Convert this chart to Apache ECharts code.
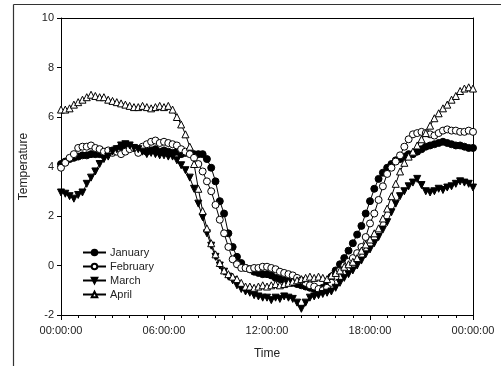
<!DOCTYPE html>
<html>
<head>
<meta charset="utf-8">
<script src="https://cdn.jsdelivr.net/npm/echarts@6/dist/echarts.min.js"></script>
<style>
  html, body { margin: 0; padding: 0; background: #fff; }
  #chart { width: 501px; height: 366px; }
</style>
</head>
<body>
<div id="chart"></div>
<script>
// readings every 15 minutes, 00:00 -> 24:00 (97 points)
var stepHours = 0.25;
var seriesNames = ['January', 'February', 'March', 'April'];
var xTicks = ['00:00:00', '06:00:00', '12:00:00', '18:00:00', '00:00:00'];

var january = [
  4.1, 4.2, 4.3, 4.35, 4.4, 4.45, 4.45, 4.5, 4.5, 4.5, 4.55, 4.6, 4.65, 4.7, 4.8, 4.85,
  4.8, 4.75, 4.7, 4.65, 4.6, 4.65, 4.7, 4.6, 4.65, 4.6, 4.55, 4.6, 4.5, 4.55, 4.6, 4.5,
  4.5, 4.5, 4.3, 3.95, 3.4, 2.6, 2.1, 1.3, 0.75, 0.35, 0.1, -0.1, -0.15, -0.25, -0.3, -0.35,
  -0.35, -0.4, -0.5, -0.55, -0.6, -0.65, -0.7, -0.75, -0.8, -0.85, -0.9, -0.95, -0.95, -0.9, -0.75, -0.45,
  -0.2, 0.05, 0.3, 0.6, 0.9, 1.25, 1.6, 2.1, 2.6, 3.1, 3.5, 3.75, 3.95, 4.1, 4.25, 4.3,
  4.4, 4.5, 4.5, 4.6, 4.7, 4.8, 4.85, 4.9, 4.95, 5.0, 4.95, 4.9, 4.85, 4.85, 4.8, 4.75,
  4.75
];
var february = [
  3.95, 4.15, 4.35, 4.5, 4.75, 4.8, 4.8, 4.85, 4.75, 4.7, 4.6, 4.65, 4.55, 4.6, 4.5, 4.6,
  4.7, 4.75, 4.55, 4.8, 4.9, 5.0, 5.05, 4.95, 5.0, 4.95, 4.9, 4.85, 4.7, 4.6, 4.5, 4.35,
  4.1, 3.8, 3.4, 3.0, 2.45, 1.85, 1.3, 0.75, 0.25, 0.05, -0.1, -0.1, -0.15, -0.1, -0.1, -0.05,
  -0.05, -0.1, -0.15, -0.25, -0.3, -0.35, -0.4, -0.5, -0.6, -0.7, -0.8, -0.85, -0.95, -1.0, -0.9, -0.7,
  -0.45, -0.2, 0.0, 0.15, 0.3, 0.5, 0.75, 1.15, 1.7, 2.1, 2.65, 3.2, 3.7, 3.95, 4.2, 4.45,
  4.8, 5.1, 5.3, 5.35, 5.4, 5.35, 5.3, 5.25, 5.35, 5.45, 5.5, 5.45, 5.45, 5.4, 5.4, 5.45,
  5.4
];
var march = [
  2.95, 2.9, 2.8, 2.7, 2.85, 2.95, 3.3, 3.55, 3.8, 4.1, 4.3, 4.4, 4.6, 4.7, 4.85, 4.9,
  4.85, 4.75, 4.7, 4.6, 4.5, 4.55, 4.5, 4.45, 4.45, 4.4, 4.4, 4.25, 4.05, 3.85, 3.55, 3.1,
  2.5, 1.95, 1.3, 0.8, 0.35, 0.0, -0.25, -0.45, -0.6, -0.8, -0.95, -1.05, -1.1, -1.2, -1.25, -1.3,
  -1.3, -1.4, -1.3, -1.35, -1.25, -1.3, -1.35, -1.5, -1.75, -1.5, -1.3, -1.25, -1.2, -1.15, -1.1, -1.05,
  -0.9, -0.7, -0.5, -0.35, -0.2, 0.0, 0.2, 0.45, 0.65, 0.9, 1.15, 1.45, 1.75, 2.15, 2.5, 2.8,
  3.0, 3.2, 3.35, 3.5, 3.25, 3.0, 2.95, 3.0, 3.1, 3.05, 3.15, 3.2, 3.3, 3.4, 3.35, 3.3,
  3.15
];
var april = [
  6.3, 6.3, 6.35, 6.5, 6.6, 6.7, 6.8, 6.9, 6.85, 6.8, 6.8, 6.7, 6.65, 6.6, 6.55, 6.5,
  6.45, 6.4, 6.4, 6.45, 6.4, 6.35, 6.4, 6.45, 6.4, 6.45, 6.3, 6.0, 5.7, 5.3, 4.8, 4.1,
  3.1, 2.2, 1.5, 0.9, 0.45, 0.1, -0.2, -0.35, -0.45, -0.55, -0.7, -0.85, -0.85, -0.9, -0.85, -0.8,
  -0.85, -0.8, -0.75, -0.8, -0.75, -0.7, -0.65, -0.6, -0.55, -0.5, -0.45, -0.5, -0.45, -0.5, -0.55, -0.4,
  -0.3, -0.2, -0.05, 0.05, 0.15, 0.3, 0.6, 0.85, 1.05, 1.3, 1.5, 1.9, 2.3, 2.8, 3.3, 3.8,
  4.15, 4.4, 4.6, 4.85, 5.1, 5.35, 5.65, 5.95, 6.15, 6.35, 6.5, 6.7, 6.85, 7.05, 7.15, 7.2,
  7.15
];

function pairs(vals) {
  return vals.map(function (v, i) { return [i * stepHours, v]; });
}

var chart = echarts.init(document.getElementById('chart'), null, { renderer: 'canvas' });

var textColor = '#222';
var fontFam = 'Liberation Sans, Arial, sans-serif';

function lineSeries(name, vals, symbol, fill, rotate) {
  return {
    name: name,
    type: 'line',
    data: pairs(vals),
    symbol: symbol,
    symbolSize: 7,
    symbolRotate: rotate || 0,
    showAllSymbol: true,
    animation: false,
    lineStyle: { color: '#000', width: 1 },
    itemStyle: { color: fill, borderColor: '#000', borderWidth: 1 }
  };
}

// top and right frame lines of the plot box
var frameAxis = {
  axisLine: { show: true, onZero: false, lineStyle: { color: '#000', width: 1 } },
  axisTick: { show: false },
  axisLabel: { show: false },
  splitLine: { show: false }
};

chart.setOption({
  backgroundColor: '#fff',
  animation: false,
  graphic: [
    { type: 'line', shape: { x1: 13.5, y1: 4.5, x2: 501, y2: 4.5 },
      style: { stroke: '#333', lineWidth: 1.2 }, silent: true, z: 100 },
    { type: 'line', shape: { x1: 13.5, y1: 4.5, x2: 13.5, y2: 366 },
      style: { stroke: '#333', lineWidth: 1.2 }, silent: true, z: 100 }
  ],
  grid: {
    left: 61, top: 18, right: 28, bottom: 51
  },
  legend: {
    data: seriesNames,
    orient: 'vertical',
    left: 77,
    top: 242,
    itemWidth: 23,
    itemHeight: 7,
    itemGap: 3,
    textStyle: { fontSize: 11, color: textColor, fontFamily: fontFam, padding: [0, 0, 0, -1] }
  },
  xAxis: [{
    type: 'value',
    min: 0, max: 24, interval: 6,
    name: 'Time',
    nameLocation: 'middle',
    nameGap: 33,
    nameTextStyle: { fontSize: 12, color: textColor, fontFamily: fontFam },
    axisLine: { onZero: false, lineStyle: { color: '#000', width: 1 } },
    axisTick: { show: true, inside: false, length: 5, lineStyle: { color: '#000' } },
    minorTick: { show: true, splitNumber: 6, length: 3, lineStyle: { color: '#000' } },
    splitLine: { show: false },
    axisLabel: {
      fontSize: 11, color: textColor, fontFamily: fontFam, margin: 10,
      formatter: function (v) { return xTicks[Math.round(v / 6)]; }
    }
  }, Object.assign({ type: 'value', min: 0, max: 24, position: 'top' }, frameAxis)],
  yAxis: [{
    type: 'value',
    min: -2, max: 10, interval: 2,
    name: 'Temperature',
    nameLocation: 'middle',
    nameGap: 31,
    nameTextStyle: { fontSize: 12, color: textColor, fontFamily: fontFam },
    axisLine: { show: true, onZero: false, lineStyle: { color: '#000', width: 1 } },
    axisTick: { show: true, inside: false, length: 4, lineStyle: { color: '#000' } },
    splitLine: { show: false },
    axisLabel: { fontSize: 11, color: textColor, fontFamily: fontFam, margin: 7 }
  }, Object.assign({ type: 'value', min: -2, max: 10, position: 'right' }, frameAxis)],
  series: [
    lineSeries('January', january, 'circle', '#000'),
    lineSeries('February', february, 'circle', '#fff'),
    lineSeries('March', march, 'triangle', '#000', 180),
    lineSeries('April', april, 'triangle', '#fff')
  ]
});
</script>
</body>
</html>
